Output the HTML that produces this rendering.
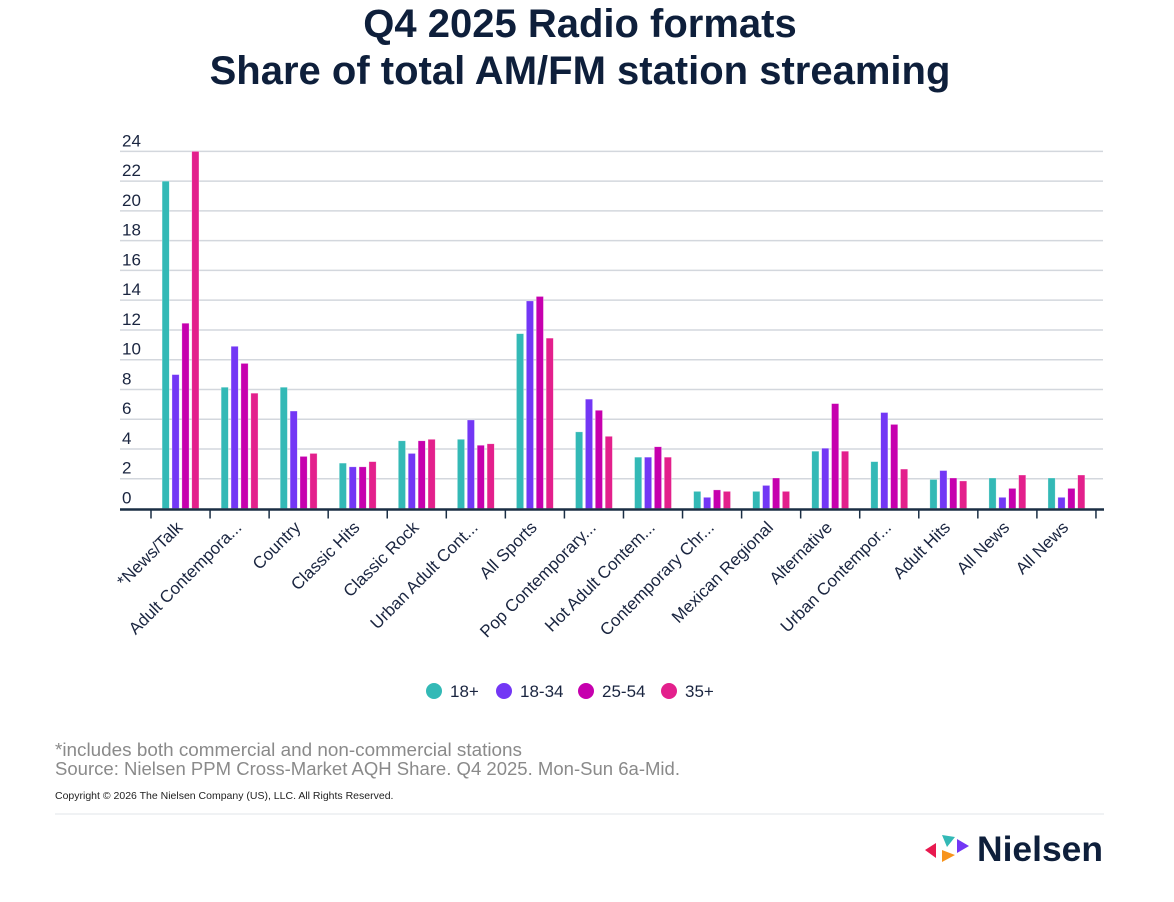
<!DOCTYPE html>
<html><head><meta charset="utf-8"><style>
body{margin:0;background:#fff;width:1174px;height:897px;overflow:hidden;font-family:"Liberation Sans",sans-serif;}
</style></head><body>
<svg width="1174" height="897" xmlns="http://www.w3.org/2000/svg" font-family="Liberation Sans, sans-serif">
<text x="580" y="37" text-anchor="middle" font-size="40" font-weight="bold" fill="#0e1f3b">Q4 2025 Radio formats</text>
<text x="580" y="84" text-anchor="middle" font-size="40" font-weight="bold" fill="#0e1f3b">Share of total AM/FM station streaming</text>
<g id="grid"></g><g id="bars"></g><g id="xaxis"></g>
<g id="legend" font-size="17" fill="#1a2540"></g>
<text x="55" y="756" font-size="18" fill="#8a8a8a" textLength="467" lengthAdjust="spacingAndGlyphs">*includes both commercial and non-commercial stations</text>
<text x="55" y="775" font-size="18" fill="#8a8a8a" textLength="625" lengthAdjust="spacingAndGlyphs">Source: Nielsen PPM Cross-Market AQH Share. Q4 2025. Mon-Sun 6a-Mid.</text>
<text x="55" y="799" font-size="10.5" fill="#222">Copyright © 2026 The Nielsen Company (US), LLC. All Rights Reserved.</text>
<line x1="55" y1="814" x2="1104" y2="814" stroke="#e2e4e8" stroke-width="1"/>
<g>
<polygon points="925,850 936,843 936,858" fill="#e8194f"/>
<polygon points="942,835 955,837 947,847" fill="#33b9b6"/>
<polygon points="942,850 955,855 942,862" fill="#f7941d"/>
<polygon points="957,839 969,846 957,853" fill="#7337f5"/>
<text x="977" y="861" font-size="35" font-weight="bold" fill="#0e1f3b" textLength="126" lengthAdjust="spacingAndGlyphs">Nielsen</text>
</g>
</svg>
<script>
const categories=["*News/Talk","Adult Contempora...","Country","Classic Hits","Classic Rock","Urban Adult Cont...","All Sports","Pop Contemporary...","Hot Adult Contem...","Contemporary Chr...","Mexican Regional","Alternative","Urban Contempor...","Adult Hits","All News","All News"];
const series=["18+","18-34","25-54","35+"];
const v18=[22.0,8.15,8.15,3.05,4.55,4.65,11.75,5.15,3.45,1.15,1.15,3.85,3.15,1.95,2.05,2.05];
const v1834=[9.0,10.9,6.55,2.8,3.7,5.95,13.95,7.35,3.45,0.75,1.55,4.05,6.45,2.55,0.75,0.75];
const v2554=[12.45,9.75,3.5,2.8,4.55,4.25,14.25,6.6,4.15,1.25,2.05,7.05,5.65,2.05,1.35,1.35];
const v35=[24.0,7.75,3.7,3.15,4.65,4.35,11.45,4.85,3.45,1.15,1.15,3.85,2.65,1.85,2.25,2.25];
const yTicks=[0,2,4,6,8,10,12,14,16,18,20,22,24];
const colors=["#33b9b6","#7337f5","#c600ae","#e3208c"];
const NS="http://www.w3.org/2000/svg";
const y0=508.5,pxu=14.88,x0=151,step=59.06;
const y=v=>y0-v*pxu;
const xc=i=>x0+step*(i+0.5);
function mk(t,a,p){const e=document.createElementNS(NS,t);for(const k in a)e.setAttribute(k,a[k]);p.appendChild(e);return e;}
const grid=document.getElementById('grid');
yTicks.forEach(t=>{
 if(t>0){const l=mk('line',{x1:120,x2:1103,y1:y(t),y2:y(t),stroke:'#d3d7dd','stroke-width':1.5},grid);
 
 }
 const tx=mk('text',{x:122,y:y(t)-5,'font-size':17,fill:'#1a2540'},grid);tx.textContent=t;
 
 
});
const bars=document.getElementById('bars');
const all=[v18,v1834,v2554,v35];
categories.forEach((c,i)=>{
 all.forEach((arr,s)=>{
  const cx=xc(i)+(s-1.5)*9.9;
  const r=mk('rect',{x:cx-3.6,y:y(arr[i]),width:7.2,height:arr[i]*pxu,fill:colors[s],stroke:'#fff','stroke-opacity':0.5,'stroke-width':0.6},bars);
  
  
 });
});
const xa=document.getElementById('xaxis');
const ax=mk('line',{x1:120,x2:1104,y1:y0+1,y2:y0+1,stroke:'#1a2e44','stroke-width':2.5},xa);


for(let i=0;i<=categories.length;i++){
 const tk=mk('line',{x1:x0+step*i,x2:x0+step*i,y1:y0,y2:y0+10,stroke:'#1a2e44','stroke-width':1.5},xa);
 
 
}
categories.forEach((c,i)=>{
 const px=xc(i)+3,py=y0+20;
 const t=mk('text',{x:px,y:py,'text-anchor':'end','font-size':17,fill:'#1a2540',transform:`rotate(-45 ${px} ${py})`},xa);
 t.textContent=c;
 
 
});
const lg=document.getElementById('legend');
const lx=[434,504,586,669];
series.forEach((s,k)=>{
 const c=mk('circle',{cx:lx[k],cy:691,r:8,fill:colors[k]},lg);
 
 
 const t=mk('text',{x:lx[k]+16,y:697},lg);t.textContent=s;
 
 
});
</script>
</body></html>
